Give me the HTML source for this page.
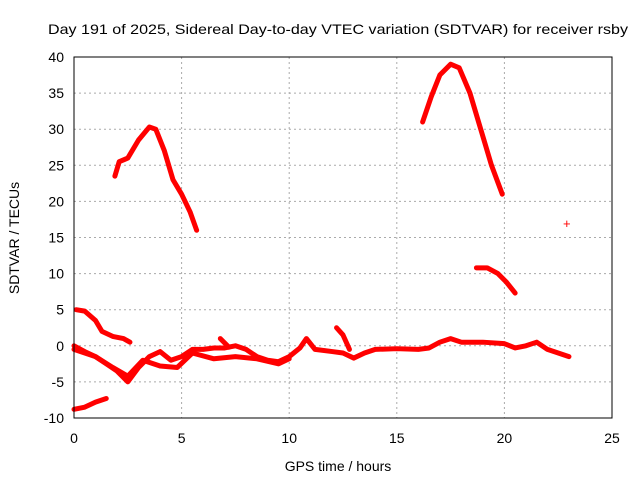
<!DOCTYPE html>
<html><head><meta charset="utf-8"><style>
body{margin:0;background:#fff}
svg{display:block;font-family:"Liberation Sans",sans-serif;font-size:14px}
</style></head><body>
<svg id="chart" width="640" height="480">
<text x="338" y="34" text-anchor="middle" textLength="580" lengthAdjust="spacingAndGlyphs">Day 191 of 2025, Sidereal Day-to-day VTEC variation (SDTVAR) for receiver rsby</text>
<text x="338" y="471" text-anchor="middle">GPS time / hours</text>
<text transform="translate(19,238) rotate(-90)" text-anchor="middle">SDTVAR / TECUs</text>
<g id="grid"></g><g id="ticks"></g><g id="marks"></g>
<rect x="74" y="57" width="538" height="361" fill="none" stroke="#000"/>
</svg>
<script>
const xTicks=[0,5,10,15,20,25];
const yTicks=[-10,-5,0,5,10,15,20,25,30,35,40];
const arcMorning=[[1.9,23.5],[2.1,25.5],[2.5,26],[3.0,28.5],[3.5,30.3],[3.8,30],[4.2,27],[4.6,23],[5.0,21],[5.4,18.5],[5.7,16]];
const arcEvening=[[16.2,31],[16.6,34.5],[17.0,37.5],[17.5,39],[17.9,38.5],[18.4,35],[18.9,30],[19.4,25],[19.9,21]];
const arcLate=[[18.7,10.8],[19.2,10.8],[19.7,10],[20.1,8.8],[20.5,7.3]];
const earlyHigh=[[0.1,5],[0.5,4.8],[1.0,3.5],[1.3,2],[1.8,1.3],[2.3,1],[2.6,0.5]];
const earlyLow=[[0,-8.8],[0.5,-8.5],[1.0,-7.8],[1.5,-7.3]];
const mainTrack=[[0,0],[0.5,-0.8],[1,-1.5],[1.5,-2.5],[2,-3.5],[2.5,-5],[3,-3],[3.5,-1.5],[4,-0.8],[4.5,-2],[5,-1.5],[5.5,-0.5],[6,-0.5],[6.5,-0.3],[7,-0.3],[7.5,0],[8,-0.5],[8.5,-1.5],[9,-2],[9.5,-2.2],[10,-1.5],[10.5,-0.3],[10.8,1],[11.2,-0.5],[12,-0.8],[12.5,-1],[13,-1.7],[13.5,-1],[14,-0.5],[15,-0.4],[16,-0.5],[16.5,-0.3],[17,0.5],[17.5,1],[18,0.5],[19,0.5],[20,0.3],[20.5,-0.3],[21,0],[21.5,0.5],[22,-0.5],[22.5,-1],[23,-1.5]];
const lowerTrack=[[0,-0.5],[1,-1.5],[1.8,-3],[2.5,-4.2],[3.2,-2],[4,-2.8],[4.8,-3],[5.5,-1],[6.5,-1.8],[7.5,-1.5],[8.5,-1.8],[9.5,-2.5],[10,-1.8]];
const spike=[[12.2,2.5],[12.5,1.5],[12.8,-0.5]];
const bump=[[6.8,1],[7.2,-0.2]];
const singlePoints=[[22.9,17]];
const tracks=[arcMorning,arcEvening,arcLate,earlyHigh,earlyLow,mainTrack,lowerTrack,spike,bump];
const NS="http://www.w3.org/2000/svg";
const X=v=>74+v*538/25, Y=v=>418-(v+10)*361/50;
const grid=document.getElementById('grid'),ticks=document.getElementById('ticks'),marks=document.getElementById('marks');
function mk(t,a,p){const e=document.createElementNS(NS,t);for(const k in a)e.setAttribute(k,a[k]);p.appendChild(e);return e;}
xTicks.forEach(t=>{
 if(t>0&&t<25){const g=mk('line',{x1:X(t),x2:X(t),y1:57,y2:418,stroke:'#aaa','stroke-dasharray':'2,3'},grid);
 
 }
 const l=mk('text',{x:X(t),y:443,'text-anchor':'middle'},ticks);l.textContent=t;
 
 
});
yTicks.forEach(t=>{
 if(t>-10&&t<40){const g=mk('line',{x1:74,x2:612,y1:Y(t),y2:Y(t),stroke:'#aaa','stroke-dasharray':'2,3'},grid);
 
 }
 const l=mk('text',{x:64,y:Y(t)+5,'text-anchor':'end'},ticks);l.textContent=t;
 
 
});
tracks.forEach(tr=>{
 const p=mk('polyline',{points:tr.map(d=>X(d[0])+','+Y(d[1])).join(' '),fill:'none',stroke:'#f00','stroke-width':5,'stroke-linejoin':'round','stroke-linecap':'round'},marks);
 
 
});
singlePoints.forEach(d=>{
 const t=mk('text',{x:X(d[0]),y:Y(d[1])+5,'text-anchor':'middle',fill:'#f00','font-size':13},marks);t.textContent='+';
 
 
});
</script>
</body></html>
